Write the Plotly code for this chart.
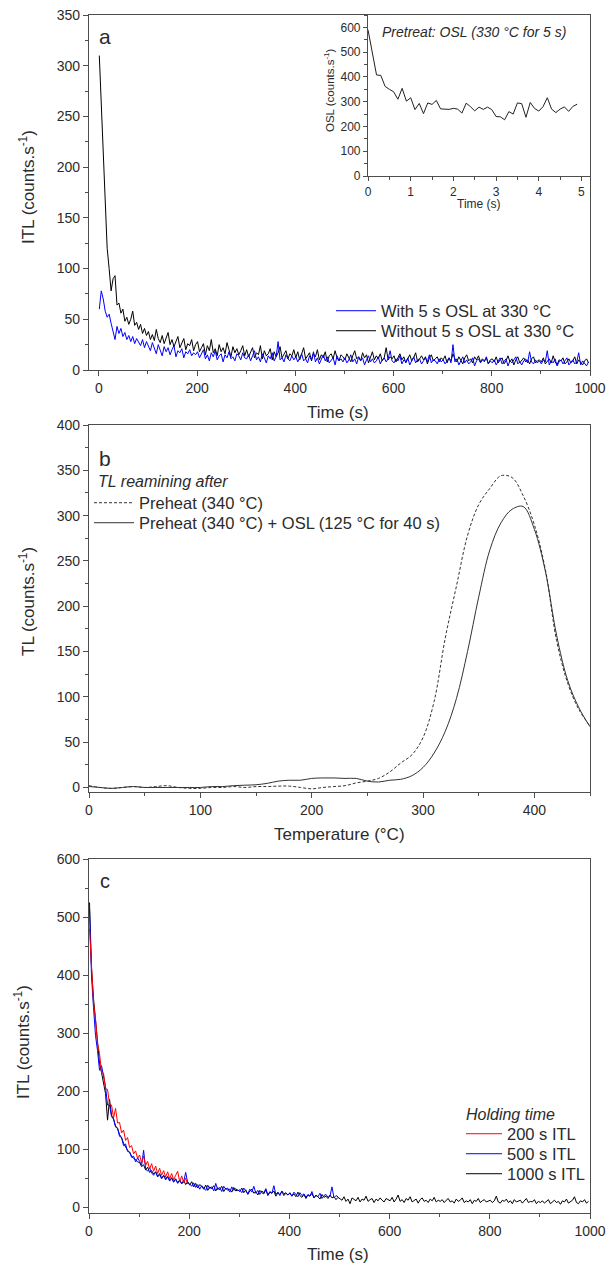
import plotly.graph_objects as go

FIG_W, FIG_H = 609, 1266

# ---------------- Data ----------------
# Panel a: ITL decay, sampled every 4 s
time_a = list(range(1, 1001, 4))
itl_without = [
    310, 262, 205, 152, 120, 100, 78, 90, 93, 64, 66, 56, 60, 48, 52, 45, 50, 58, 44, 47, 40, 45, 36, 41, 34,
    38, 30, 35, 29, 40, 31, 27, 34, 26, 32, 37, 25, 30, 23, 29, 33, 22, 27, 31, 20, 26, 24, 30, 19, 25,
    28, 18, 22, 26, 15, 24, 19, 30, 17, 21, 14, 25, 18, 22, 16, 27, 20, 13, 23, 17, 21, 15, 19, 24, 14,
    20, 13, 18, 22, 12, 17, 15, 24, 11, 19, 14, 16, 21, 10, 18, 13, 17, 23, 12, 15, 19, 11, 16, 14, 20,
    12, 18, 10, 15, 22, 11, 14, 17, 9, 16, 13, 20, 10, 15, 12, 18, 8, 14, 16, 11, 19, 12, 9, 15, 13,
    10, 16, 12, 8, 14, 19, 11, 13, 9, 17, 12, 15, 7, 13, 18, 10, 14, 11, 16, 9, 12, 22, 10, 13, 11,
    14, 8, 12, 16, 10, 13, 7, 11, 15, 9, 12, 17, 8, 11, 14, 10, 13, 6, 12, 15, 9, 11, 13, 8, 12,
    10, 14, 7, 12, 9, 16, 11, 8, 13, 10, 6, 12, 15, 9, 11, 7, 13, 10, 14, 8, 11, 9, 12, 6, 10,
    11, 8, 13, 7, 10, 12, 6, 9, 14, 8, 11, 5, 10, 13, 7, 9, 12, 8, 10, 6, 11, 13, 7, 9, 10,
    8, 12, 6, 9, 11, 7, 14, 8, 5, 10, 9, 12, 6, 8, 11, 7, 9, 13, 6, 10, 8, 5, 9, 11, 7,
]
itl_with = [
    60, 78, 70, 58, 52, 55, 46, 38, 30, 43, 36, 41, 33, 37, 30, 34, 28, 33, 26, 31, 27, 24, 30, 22, 28,
    24, 19, 27, 21, 16, 25, 20, 14, 23, 18, 22, 15, 20, 24, 13, 19, 17, 21, 12, 18, 16, 20, 14, 17, 15,
    18, 12, 16, 20, 11, 15, 9, 17, 13, 19, 10, 14, 16, 8, 15, 12, 18, 11, 13, 9, 16, 14, 10, 17, 12,
    11, 15, 9, 14, 19, 10, 13, 8, 16, 12, 7, 14, 11, 17, 9, 13, 28, 10, 12, 8, 15, 11, 9, 14, 10,
    13, 8, 12, 16, 9, 11, 7, 14, 10, 18, 8, 12, 6, 11, 15, 9, 13, 7, 10, 12, 5, 14, 9, 11, 8,
    12, 7, 10, 15, 8, 11, 6, 13, 9, 12, 5, 10, 14, 8, 11, 7, 9, 13, 6, 10, 12, 8, 11, 19, 9,
    7, 11, 9, 14, 6, 10, 8, 12, 5, 9, 13, 7, 10, 11, 6, 9, 12, 8, 15, 7, 10, 9, 6, 11, 8,
    10, 6, 9, 12, 7, 25, 8, 11, 5, 9, 13, 7, 10, 6, 8, 12, 4, 9, 11, 7, 10, 8, 13, 6, 9,
    7, 10, 5, 9, 12, 6, 8, 11, 4, 9, 7, 10, 13, 6, 8, 5, 9, 11, 7, 18, 8, 6, 10, 7, 9,
    6, 10, 8, 19, 5, 9, 7, 11, 4, 8, 10, 6, 9, 12, 5, 7, 10, 6, 8, 17, 5, 9, 7, 4, 8,
]

# Inset: OSL pretreatment (0.1 s channels)
time_osl = [round(0.1 * i, 1) for i in range(50)]
osl = [
    590, 500, 408, 406, 362, 350, 340, 310, 354, 302,
    316, 268, 293, 252, 295, 289, 305, 271, 270, 269,
    273, 270, 254, 294, 280, 263, 278, 269, 278, 268,
    240, 239, 227, 260, 250, 295, 292, 237, 297, 273,
    262, 280, 316, 270, 256, 270, 279, 261, 281, 290,
]

# Panel b: TL glow curves
temp_b = list(range(0, 451, 10))
tl_preheat = [
    2, 0, -1, 0, 1, 0, 1, 2, 0, -1,
    -1, 0, 0, 1, 0, 1, 1, 1.5, 1.5, 0,
    -1.5, 0, 1, 2, 5, 7, 10, 17, 27, 36,
    55, 95, 165, 222, 278, 312, 330, 344, 342, 322,
    290, 240, 162, 115, 86, 68,
]
tl_preheat_osl = [
    1, 0, -1, 0, 1, 0, 0, 0, 0, 0,
    0, 1, 1, 2, 2.5, 3, 4.5, 7, 8, 8,
    10, 10.5, 10.5, 10, 10, 7, 6, 8, 9, 13,
    22, 38, 62, 98, 150, 210, 262, 292, 307, 310,
    285, 238, 168, 118, 88, 67,
]

# Panel c: ITL for different holding times, sampled every 4 s
time_c = list(range(1, 1001, 4))
itl_1000 = [
    525, 412, 360, 322, 284, 248, 232, 214, 196, 150, 186, 158, 152, 140, 136, 125, 120, 110, 104, 98, 95, 88, 84, 82, 78,
    77, 70, 73, 64, 69, 60, 63, 57, 61, 53, 58, 50, 55, 49, 53, 46, 51, 44, 49, 42, 47, 41, 46, 39, 44,
    38, 44, 35, 41, 33, 39, 36, 31, 38, 29, 35, 32, 37, 28, 34, 30, 36, 27, 33, 29, 31, 26, 34, 28, 30,
    27, 33, 25, 30, 22, 28, 31, 24, 27, 21, 29, 25, 23, 30, 20, 26, 24, 28, 19, 25, 22, 27, 20, 24, 21,
    25, 19, 23, 18, 26, 20, 17, 22, 15, 21, 19, 24, 16, 20, 18, 14, 22, 17, 19, 15, 21, 16, 18, 13, 17,
    15, 12, 18, 10, 14, 6, 16, 13, 11, 17, 9, 14, 12, 19, 10, 13, 15, 8, 14, 11, 16, 12, 9, 15, 13,
    11, 17, 9, 14, 21, 10, 13, 8, 15, 12, 18, 9, 11, 14, 7, 13, 16, 10, 12, 8, 14, 11, 17, 9, 12,
    10, 13, 8, 12, 15, 9, 11, 7, 14, 10, 12, 16, 8, 11, 9, 13, 6, 12, 10, 15, 8, 11, 13, 9, 10,
    12, 8, 11, 19, 9, 7, 12, 10, 14, 8, 11, 6, 13, 9, 10, 12, 7, 11, 15, 8, 10, 9, 13, 6, 10,
    8, 11, 7, 10, 13, 6, 9, 12, 8, 10, 5, 11, 9, 14, 7, 10, 12, 18, 8, 6, 11, 9, 13, 7, 10,
]
itl_500 = [
    515, 398, 344, 296, 270, 236, 244, 222, 208, 176, 176, 156, 152, 138, 136, 122, 120, 106, 109, 96, 95, 86, 88, 78, 85,
    79, 72, 98, 66, 62, 68, 59, 55, 61, 52, 56, 49, 54, 47, 52, 45, 50, 43, 48, 41, 46, 40, 44, 60, 42,
    40, 36, 42, 34, 39, 31, 37, 33, 29, 38, 32, 35, 28, 41, 30, 34, 27, 36, 31, 33, 26, 35, 29, 32, 28,
    30, 25, 33, 27, 23, 31, 26, 36, 24, 29, 22, 28, 25, 32, 21, 27, 24, 37, 22, 26, 20, 28, 23, 25, 21,
    24, 19, 26, 21, 18, 25, 20, 23, 17, 22, 19, 27, 16, 21, 18, 24, 15, 20, 22, 17, 19, 35, 16, 20, 18,
]
itl_200 = [
    480, 402, 352, 325, 282, 265, 232, 231, 204, 203, 178, 176, 154, 170, 145, 146, 128, 133, 115, 120, 103, 106, 92, 97, 84,
    90, 76, 88, 72, 79, 66, 75, 62, 71, 58, 67, 55, 63, 52, 61, 49, 58, 47, 55, 62, 44, 54, 42, 50, 40,
]

# ---------------- Figure ----------------
FONT = "Liberation Sans, Arial, sans-serif"
AX = "#4d4d4d"
TXT = "#2b2b2b"


def px_x(p):
    return p / FIG_W


def px_y(p):
    return 1 - p / FIG_H


def axis(domain, rng, dtick, minor_dtick, anchor, mirror=True, tsize=14, ticklen=5):
    return dict(
        domain=domain, range=rng, anchor=anchor, dtick=dtick, tick0=0,
        showline=True, linecolor=AX, linewidth=1.2, mirror=mirror,
        ticks="outside", ticklen=ticklen, tickwidth=1.2, tickcolor=AX,
        tickfont=dict(family=FONT, size=tsize, color=TXT),
        showgrid=False, zeroline=False, automargin=False,
        minor=dict(ticks="outside", ticklen=3, tickwidth=1, tickcolor=AX, dtick=minor_dtick, tick0=0),
    )


fig = go.Figure()

# Panel a
fig.add_trace(go.Scatter(x=time_a, y=itl_without, mode="lines", name="Without 5 s OSL at 330 °C",
                         line=dict(color="#000000", width=1), xaxis="x", yaxis="y", legend="legend"))
fig.add_trace(go.Scatter(x=time_a, y=itl_with, mode="lines", name="With 5 s OSL at 330 °C",
                         line=dict(color="#0000ff", width=1), xaxis="x", yaxis="y", legend="legend2"))
# Inset
fig.add_trace(go.Scatter(x=time_osl, y=osl, mode="lines", showlegend=False,
                         line=dict(color="#222222", width=1), xaxis="x4", yaxis="y4"))
# Panel b
fig.add_trace(go.Scatter(x=temp_b, y=tl_preheat, mode="lines", name="Preheat (340 °C)",
                         line=dict(color="#333333", width=1, dash="3px,2px", shape="spline"),
                         xaxis="x2", yaxis="y2", legend="legend3"))
fig.add_trace(go.Scatter(x=temp_b, y=tl_preheat_osl, mode="lines", name="Preheat (340 °C) + OSL (125 °C for 40 s)",
                         line=dict(color="#333333", width=1, shape="spline"),
                         xaxis="x2", yaxis="y2", legend="legend4"))
# Panel c
fig.add_trace(go.Scatter(x=time_c, y=itl_1000, mode="lines", name="1000 s ITL",
                         line=dict(color="#000000", width=1), xaxis="x3", yaxis="y3", legend="legend5"))
fig.add_trace(go.Scatter(x=time_c[:len(itl_500)], y=itl_500, mode="lines", name="500 s ITL",
                         line=dict(color="#0000ff", width=1), xaxis="x3", yaxis="y3", legend="legend6"))
fig.add_trace(go.Scatter(x=time_c[:len(itl_200)], y=itl_200, mode="lines", name="200 s ITL",
                         line=dict(color="#ff0000", width=1), xaxis="x3", yaxis="y3", legend="legend7"))

xd = [px_x(89), px_x(590)]
dom_a = [px_y(370), px_y(15)]
dom_b = [px_y(792), px_y(425)]
dom_c = [px_y(1213), px_y(859)]
inset_x = [px_x(368), px_x(590)]
inset_y = [px_y(176), px_y(15)]

leg_font = dict(family=FONT, size=16.5, color=TXT)


def leg(x, y, width=40):
    return dict(x=px_x(x), y=px_y(y), xanchor="left", yanchor="middle",
                font=leg_font, bgcolor="rgba(0,0,0,0)", itemwidth=width)


fig.update_layout(
    width=FIG_W, height=FIG_H, autosize=False,
    margin=dict(l=0, r=0, t=0, b=0, pad=0, autoexpand=False),
    paper_bgcolor="white", plot_bgcolor="white",
    font=dict(family=FONT, color=TXT),
    xaxis=axis(xd, [-20, 1000], 200, 100, "y"),
    yaxis=axis(dom_a, [0, 350], 50, 25, "x"),
    xaxis2=axis(xd, [0, 450], 100, 50, "y2"),
    yaxis2=axis(dom_b, [-5, 400], 50, 25, "x2"),
    xaxis3=axis(xd, [0, 1000], 200, 100, "y3"),
    yaxis3=axis(dom_c, [-10, 600], 100, 50, "x3"),
    xaxis4=axis(inset_x, [0, 5.2], 1, 0.5, "y4", mirror=False, tsize=12, ticklen=4),
    yaxis4=axis(inset_y, [0, 650], 100, 50, "x4", mirror=False, tsize=12, ticklen=4),
    legend2=leg(331, 311),
    legend=leg(331, 331),
    legend3=leg(89, 503),
    legend4=leg(89, 523),
    legend7=leg(461, 1134, 36),
    legend6=leg(461, 1154, 36),
    legend5=leg(461, 1174, 36),
)

annotations = [
    ("a", 105, 37, 21, 0, False, "center"),
    ("b", 105, 458, 21, 0, False, "center"),
    ("c", 105, 881, 20, 0, False, "center"),
    ("Pretreat: OSL (330 °C for 5 s)", 474, 32, 14, 0, True, "center"),
    ("TL reamining after", 96, 482, 16, 0, True, "left"),
    ("Holding time", 464, 1114, 16, 0, True, "left"),
    ("ITL (counts.s<sup>-1</sup>)", 27, 187, 17, -90, False, "center"),
    ("TL (counts.s<sup>-1</sup>)", 27, 602, 17, -90, False, "center"),
    ("ITL (counts.s<sup>-1</sup>)", 22, 1042, 17, -90, False, "center"),
    ("OSL (counts.s<sup>-1</sup>)", 329, 90, 11.5, -90, False, "center"),
    ("Time (s)", 479, 204, 12, 0, False, "center"),
    ("Time (s)", 338, 412, 17, 0, False, "center"),
    ("Temperature (°C)", 339, 834, 17, 0, False, "center"),
    ("Time (s)", 338, 1254, 17, 0, False, "center"),
]
for text, x, y, size, angle, italic, anchor in annotations:
    fig.add_annotation(
        text=f"<i>{text}</i>" if italic else text,
        x=px_x(x), y=px_y(y), xref="paper", yref="paper",
        xanchor=anchor, yanchor="middle", showarrow=False, textangle=angle,
        font=dict(family=FONT, size=size, color=TXT),
    )

fig.write_html("out.html")
